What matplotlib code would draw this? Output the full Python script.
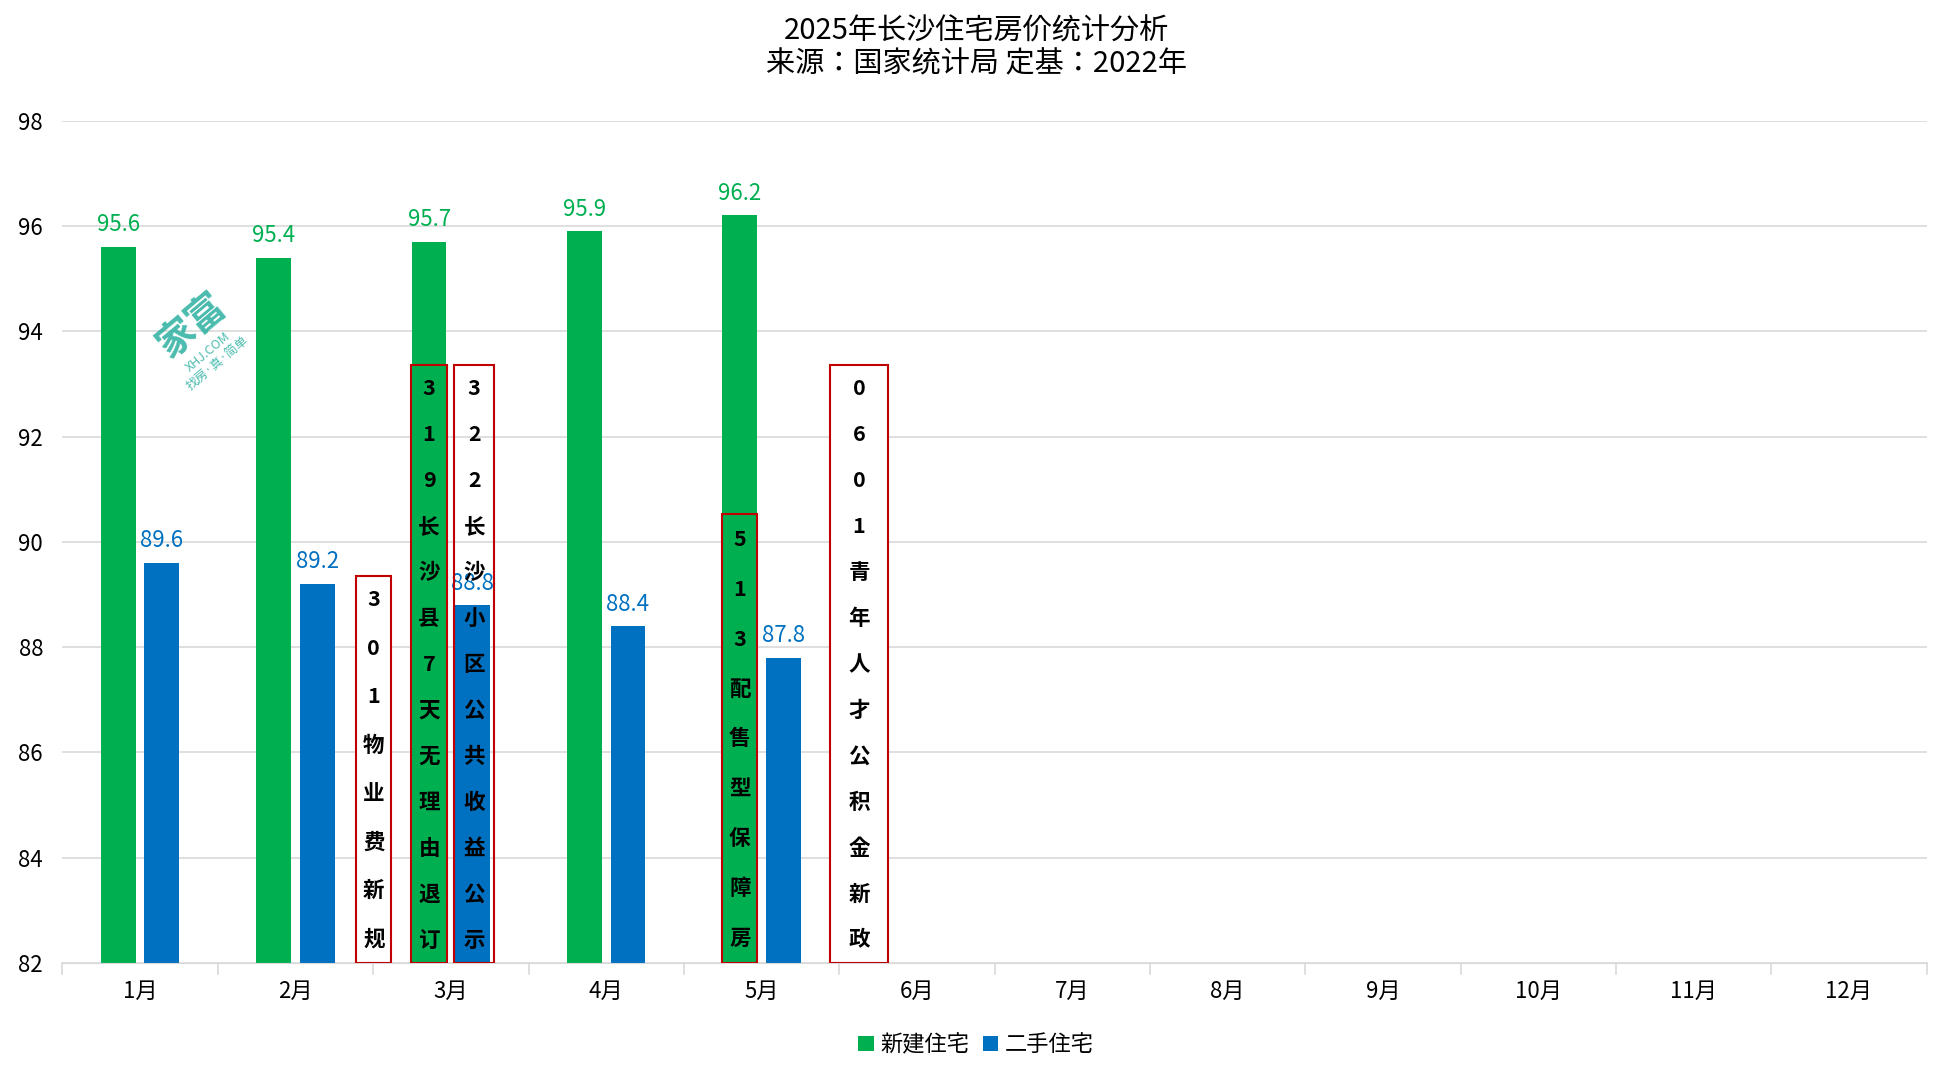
import matplotlib
matplotlib.use("Agg")
import matplotlib.pyplot as plt
from matplotlib.patches import Rectangle
from matplotlib import font_manager as fm

fam = "Noto Sans CJK JP"
weights = sorted({f.weight for f in fm.fontManager.ttflist if f.name == fam and isinstance(f.weight, int)})
normal_w = 400 if 400 in weights else (500 if 500 in weights else "normal")
plt.rcParams["font.family"] = [fam, "DejaVu Sans"]
plt.rcParams["font.weight"] = normal_w

months = ["1月","2月","3月","4月","5月","6月","7月","8月","9月","10月","11月","12月"]
new_homes = [95.6, 95.4, 95.7, 95.9, 96.2]
used_homes = [89.6, 89.2, 88.8, 88.4, 87.8]
notes = ["301物业费新规", "319长沙县7天无理由退订", "322长沙小区公共收益公示", "513配售型保障房", "0601青年人才公积金新政"]
note_x = [1.504, 1.86, 2.15, 3.86, 4.628]
note_w = [0.224, 0.232, 0.256, 0.224, 0.376]
note_top = [89.36, 93.35, 93.35, 90.52, 93.35]

green = "#00B050"
blue = "#0070C0"

fig = plt.figure(figsize=(19.52, 10.87), dpi=100)
ax = fig.add_axes([0.032, 0.114, 0.955, 0.775])
w = 0.224
off = 0.14
xs = range(len(new_homes))
ax.bar([x - off for x in xs], [v - 82 for v in new_homes], w, bottom=82, color=green, label="新建住宅")
ax.bar([x + off for x in xs], [v - 82 for v in used_homes], w, bottom=82, color=blue, label="二手住宅")
for x, v in zip(xs, new_homes):
    ax.text(x - off, v + 0.2, f"{v}", color=green, ha="center", va="bottom", fontsize=16)
for x, v in zip(xs, used_homes):
    ax.text(x + off, v + 0.2, f"{v}", color=blue, ha="center", va="bottom", fontsize=16)

for t, cx, bw, top in zip(notes, note_x, note_w, note_top):
    over_bar = abs(abs(cx - round(cx)) - off) < 0.03
    fc = "none" if over_bar else "white"
    ax.add_patch(Rectangle((cx - bw/2, 82), bw, top - 82, facecolor=fc, edgecolor="#C00000", lw=1.5, zorder=3))
    n = len(t)
    h = (top - 82) / n
    for i, ch in enumerate(t):
        ax.text(cx, top - (i + 0.5) * h, ch, ha="center", va="center", fontsize=15.5, fontweight="bold", zorder=4)

ax.text(0.33, 94.1, "家富", color="#2AAFA0", fontsize=28, fontweight="bold", rotation=40, ha="center", va="center", alpha=0.85)
ax.text(0.47, 93.5, "XHJ.COM\n找房·真·简单", color="#2AAFA0", fontsize=9, rotation=40, ha="center", va="center", alpha=0.85)

ax.set_xlim(-0.5, 11.5)
ax.set_ylim(82, 98)
ax.set_yticks(range(82, 99, 2))
ax.set_xticks(range(12))
ax.set_xticklabels(months)
ax.tick_params(axis="both", labelsize=16, length=0)
ax.tick_params(axis="x", pad=12)
ax.tick_params(axis="y", pad=14)
ax.grid(axis="y", color="#D9D9D9", lw=1.2)
ax.set_axisbelow(True)
for s in ["top", "right", "left"]:
    ax.spines[s].set_visible(False)
ax.spines["bottom"].set_color("#D9D9D9")
for x in range(13):
    ax.plot([x - 0.5, x - 0.5], [82, 81.8], color="#D9D9D9", lw=1.2, clip_on=False)

fig.suptitle("2025年长沙住宅房价统计分析\n来源：国家统计局 定基：2022年", y=0.985, fontsize=21, linespacing=1.15)
fig.legend(loc="lower center", bbox_to_anchor=(0.5, 0.01), ncol=2, frameon=False, fontsize=16,
           handlelength=0.7, handleheight=0.7, columnspacing=0.6, handletextpad=0.3)
fig.savefig("out.png", dpi=100)
